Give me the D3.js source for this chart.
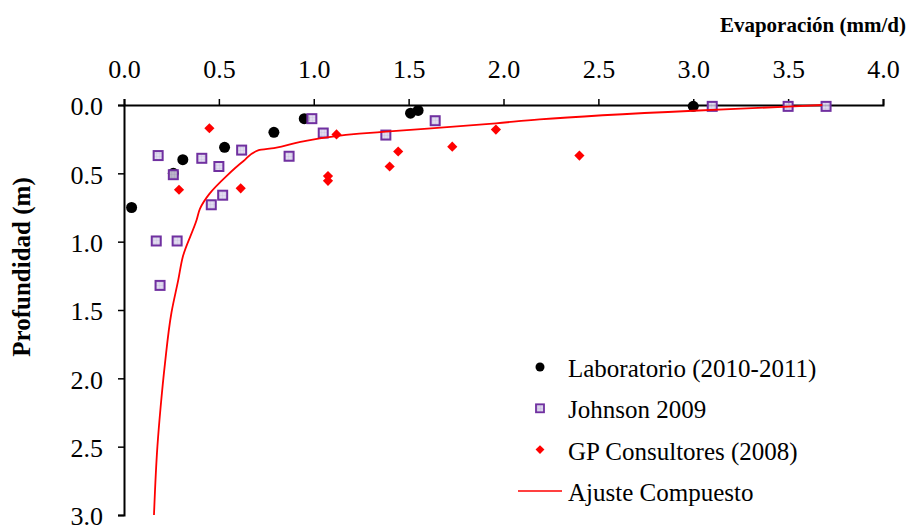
<!DOCTYPE html>
<html>
<head>
<meta charset="utf-8">
<script src="https://cdn.jsdelivr.net/npm/d3@7"></script>
<style>
  body { margin: 0; background: #fff; }
  text { font-family: "Liberation Serif", "Times New Roman", serif; }
</style>
</head>
<body>
<div id="grafico"></div>
<script>
// -----  DATOS

// Laboratorio (2010-2011): [evaporacion, profundidad]
var laboratorio = [[0.04, 0.75], [0.26, 0.50], [0.31, 0.40], [0.53, 0.31], [0.79, 0.20],
    [0.95, 0.10], [1.51, 0.06], [1.55, 0.04], [3.00, 0.01]];

// Johnson 2009
var johnson = [[0.18, 0.37], [0.26, 0.51], [0.41, 0.39], [0.50, 0.45], [0.62, 0.33],
    [0.52, 0.66], [0.46, 0.73], [0.87, 0.375], [0.17, 0.995], [0.28, 0.995], [0.19, 1.32],
    [0.99, 0.10], [1.05, 0.205], [1.38, 0.22], [1.64, 0.115], [3.10, 0.01], [3.50, 0.01], [3.70, 0.01]];

// GP Consultores (2008)
var gpConsultores = [[0.45, 0.17], [0.29, 0.62], [0.615, 0.61], [1.075, 0.52], [1.075, 0.555],
    [1.12, 0.215], [1.445, 0.34], [1.40, 0.45], [1.73, 0.305], [1.96, 0.18], [2.40, 0.37]];

// Ajuste Compuesto (curva)
var ajuste = [[0.158, 3.0], [0.176, 2.5], [0.193, 2.21], [0.216, 1.89], [0.25, 1.52], [0.286, 1.28],
    [0.31, 1.11], [0.383, 0.84], [0.40, 0.76], [0.45, 0.65], [0.54, 0.52], [0.63, 0.41], [0.71, 0.33],
    [0.79, 0.315], [0.93, 0.27], [1.24, 0.21], [1.38, 0.195], [1.96, 0.134], [2.19, 0.105],
    [3.0, 0.042], [3.5, 0.012], [3.68, 0.0]];

var ticksX = [0, 0.5, 1, 1.5, 2, 2.5, 3, 3.5, 4];
var ticksY = [0, 0.5, 1, 1.5, 2, 2.5, 3];

var series = ["Laboratorio (2010-2011)", "Johnson 2009", "GP Consultores (2008)", "Ajuste Compuesto"];

// -----  COLORES
var colorLinea = "#ff0000";
var colorCuadro = "#7030a0";
var colorRelleno = "#dcd5ec";
var fuente = "'Liberation Serif', 'Times New Roman', serif";

var width = 912, height = 525;

var svg = d3.select("#grafico")
    .append("svg")
    .attr("width", width)
    .attr("height", height);

// patron cuadriculado de los cuadros de Johnson
var patron = svg.append("defs").append("pattern")
    .attr("id", "cuadricula")
    .attr("patternUnits", "userSpaceOnUse")
    .attr("width", 3)
    .attr("height", 3);
patron.append("rect").attr("width", 3).attr("height", 3).attr("fill", colorRelleno);
patron.append("path").attr("d", "M0,0H3M0,0V3").attr("stroke", "#b9aed6").attr("stroke-width", 0.6);

var x = d3.scaleLinear().domain([0, 4]).range([124, 883]);
var y = d3.scaleLinear().domain([0, 3]).range([105, 515]);

// eje X arriba
var ejeX = svg.append("g")
    .attr("transform", "translate(0," + y(0) + ")")
    .call(d3.axisTop(x).tickValues(ticksX).tickFormat(d3.format(".1f")).tickSize(6).tickPadding(21));

// eje Y a la izquierda
var ejeY = svg.append("g")
    .attr("transform", "translate(" + x(0) + ",0)")
    .call(d3.axisLeft(y).tickValues(ticksY).tickFormat(d3.format(".1f")).tickSize(6).tickPadding(15));

[ejeX, ejeY].forEach(function (g) {
    g.select(".domain").attr("stroke-width", 2);
    g.selectAll(".tick line").attr("stroke-width", 1.5);
    g.selectAll("text")
        .attr("font-family", fuente)
        .attr("font-size", "26px")
        .attr("fill", "#000");
});
ejeY.selectAll("text").attr("dy", "0.38em");

// titulos
svg.append("text")
    .attr("x", 906)
    .attr("y", 32)
    .attr("text-anchor", "end")
    .attr("font-size", "21px")
    .attr("font-weight", "bold")
    .text("Evaporación (mm/d)");

svg.append("text")
    .attr("transform", "translate(30,267) rotate(-90)")
    .attr("text-anchor", "middle")
    .attr("font-size", "25px")
    .attr("font-weight", "bold")
    .text("Profundidad (m)");

// puntos de laboratorio
svg.append("g")
    .selectAll("circle")
    .data(laboratorio)
    .enter()
    .append("circle")
    .attr("cx", function (d) { return x(d[0]); })
    .attr("cy", function (d) { return y(d[1]); })
    .attr("r", 5.5)
    .attr("fill", "#000");

// cuadros de Johnson
svg.append("g")
    .selectAll("rect")
    .data(johnson)
    .enter()
    .append("rect")
    .attr("x", function (d) { return x(d[0]) - 4.5; })
    .attr("y", function (d) { return y(d[1]) - 4.5; })
    .attr("width", 9)
    .attr("height", 9)
    .attr("fill", "url(#cuadricula)")
    .attr("fill-opacity", 0.85)
    .attr("stroke", colorCuadro)
    .attr("stroke-width", 2);

// rombos de GP Consultores
var rombo = d3.symbol().type(d3.symbolDiamond2).size(66);
svg.append("g")
    .selectAll("path")
    .data(gpConsultores)
    .enter()
    .append("path")
    .attr("transform", function (d) { return "translate(" + x(d[0]) + "," + y(d[1]) + ")"; })
    .attr("d", rombo)
    .attr("fill", colorLinea);

// curva de ajuste
var linea = d3.line()
    .x(function (d) { return x(d[0]); })
    .y(function (d) { return y(d[1]); })
    .curve(d3.curveMonotoneY);

svg.append("path")
    .datum(ajuste)
    .attr("d", linea)
    .attr("fill", "none")
    .attr("stroke", colorLinea)
    .attr("stroke-width", 1.8);

// leyenda
var leyenda = svg.append("g")
    .selectAll("g")
    .data(series)
    .enter()
    .append("g")
    .attr("transform", function (d, i) { return "translate(540," + (367 + i * 41.3) + ")"; });

leyenda.append("text")
    .attr("x", 28)
    .attr("y", 10)
    .attr("font-size", "25px")
    .text(function (d) { return d; });

leyenda.each(function (d, i) {
    var g = d3.select(this);
    if (i == 0) {
        g.append("circle").attr("r", 4.5).attr("fill", "#000");
    } else if (i == 1) {
        g.append("rect").attr("x", -4).attr("y", -4).attr("width", 8).attr("height", 8)
            .attr("fill", "url(#cuadricula)").attr("stroke", colorCuadro).attr("stroke-width", 1.8);
    } else if (i == 2) {
        g.append("path").attr("d", d3.symbol().type(d3.symbolDiamond2).size(50)).attr("fill", colorLinea);
    } else {
        g.append("line").attr("x1", -22).attr("x2", 22).attr("stroke", colorLinea).attr("stroke-width", 1.5);
    }
});
</script>
</body>
</html>
